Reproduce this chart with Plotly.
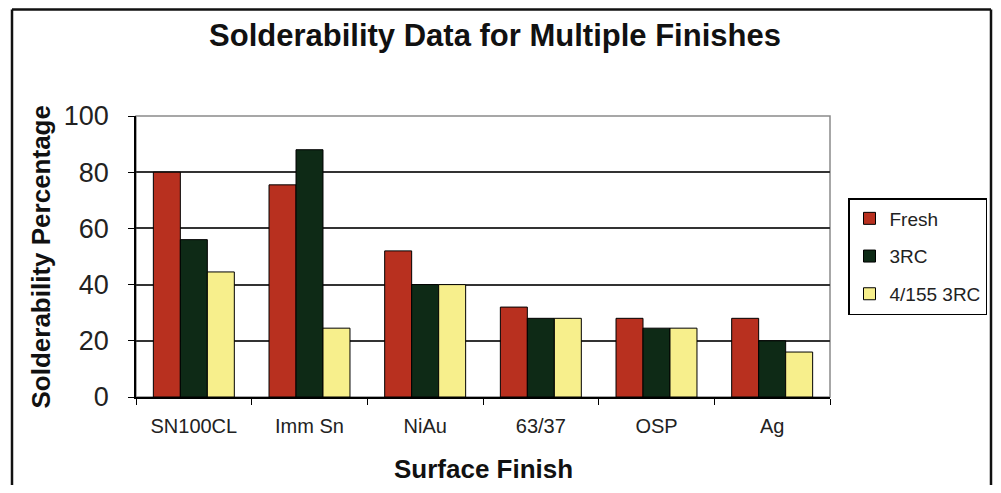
import plotly.graph_objects as go

categories = ["SN100CL", "Imm Sn", "NiAu", "63/37", "OSP", "Ag"]
fresh = [80, 75.5, 52, 32, 28, 28]
rc3 = [56, 88, 40, 28, 24.5, 20]
rc3_4155 = [44.5, 24.5, 40, 28, 24.5, 16]
y_ticks = [0, 20, 40, 60, 80, 100]

series = [
    ("Fresh", fresh, "#B8301F"),
    ("3RC", rc3, "#0E2A16"),
    ("4/155 3RC", rc3_4155, "#F7EF8C"),
]

FONT = "Liberation Sans, Arial, sans-serif"

fig = go.Figure()
for i, (name, vals, color) in enumerate(series):
    fig.add_trace(go.Bar(
        x=categories, y=vals, name=name, legendgroup=name,
        marker=dict(color=color, line=dict(color="#000000", width=1)),
    ))

# page offset of the plot div (body margin); keep page from overflowing
OFF = 8
W, H = 985, 477
L, T = 136 - OFF, 116 - OFF
pw, ph = 694, 281
R, B = W - L - pw, H - T - ph

def px_x(p):
    return (p - OFF - L) / pw

def px_y(p):
    return (T + ph - (p - OFF)) / ph

fig.update_layout(
    width=W, height=H,
    margin=dict(l=L, r=R, t=T, b=B, autoexpand=False),
    paper_bgcolor="white", plot_bgcolor="white",
    font=dict(family=FONT, color="#000000"),
    barmode="group", bargap=0.3, bargroupgap=0,
    title=dict(text="<b>Solderability Data for Multiple Finishes</b>",
               font=dict(size=31, family=FONT, color="#111111"),
               x=(495 - OFF) / W, xref="container", xanchor="center",
               y=1 - (35 - OFF) / H, yref="container", yanchor="middle"),
    xaxis=dict(
        showline=True, linecolor="#000000", linewidth=1.5,
        ticks="outside", ticklen=6, tickcolor="#000000", tickson="boundaries",
        tickfont=dict(size=20, family=FONT, color="#222222"),
        ticklabelstandoff=10, showgrid=False,
    ),
    yaxis=dict(
        range=[0, 100], tickvals=y_ticks, ticktext=[str(v) for v in y_ticks],
        showline=True, linecolor="#000000", linewidth=1.5,
        ticks="outside", ticklen=6, tickcolor="#000000",
        tickfont=dict(size=27, family=FONT, color="#222222"),
        ticklabelstandoff=14,
        showgrid=True, gridcolor="#333333", gridwidth=1.5, zeroline=False,
    ),
    legend=dict(
        x=px_x(848), y=px_y(198), xanchor="left", yanchor="top",
        bordercolor="#000000", borderwidth=1.5, bgcolor="white",
        font=dict(size=19, family=FONT, color="#222222"),
        tracegroupgap=10, itemwidth=30,
    ),
    showlegend=True,
)

fig.add_annotation(text="<b>Solderability Percentage</b>", textangle=-90,
                   xref="paper", yref="paper", x=px_x(40), y=0.5,
                   xanchor="center", yanchor="middle", showarrow=False,
                   font=dict(size=26, family=FONT, color="#111111"))
fig.add_annotation(text="<b>Surface Finish</b>",
                   xref="paper", yref="paper", x=0.5, y=px_y(469),
                   xanchor="center", yanchor="middle", showarrow=False,
                   font=dict(size=26, family=FONT, color="#111111"))

# plot area border (gray top/right)
fig.add_shape(type="rect", xref="paper", yref="paper", x0=0, x1=1, y0=0, y1=1,
              line=dict(color="#8a8a8a", width=1.5), layer="below")
# outer chart frame: left, top, right edges (bottom runs off the image)
fx0, fx1 = px_x(12), px_x(991)
fy_top, fy_bot = px_y(9.5), px_y(600)
frame = dict(color="#111111", width=2.5)
fig.add_shape(type="line", xref="paper", yref="paper", x0=fx0, x1=fx0,
              y0=fy_bot, y1=fy_top, line=frame, layer="above")
fig.add_shape(type="line", xref="paper", yref="paper", x0=fx0, x1=fx1,
              y0=fy_top, y1=fy_top, line=frame, layer="above")
fig.add_shape(type="line", xref="paper", yref="paper", x0=fx1, x1=fx1,
              y0=fy_bot, y1=fy_top, line=frame, layer="above")

fig.write_html("out.html")
